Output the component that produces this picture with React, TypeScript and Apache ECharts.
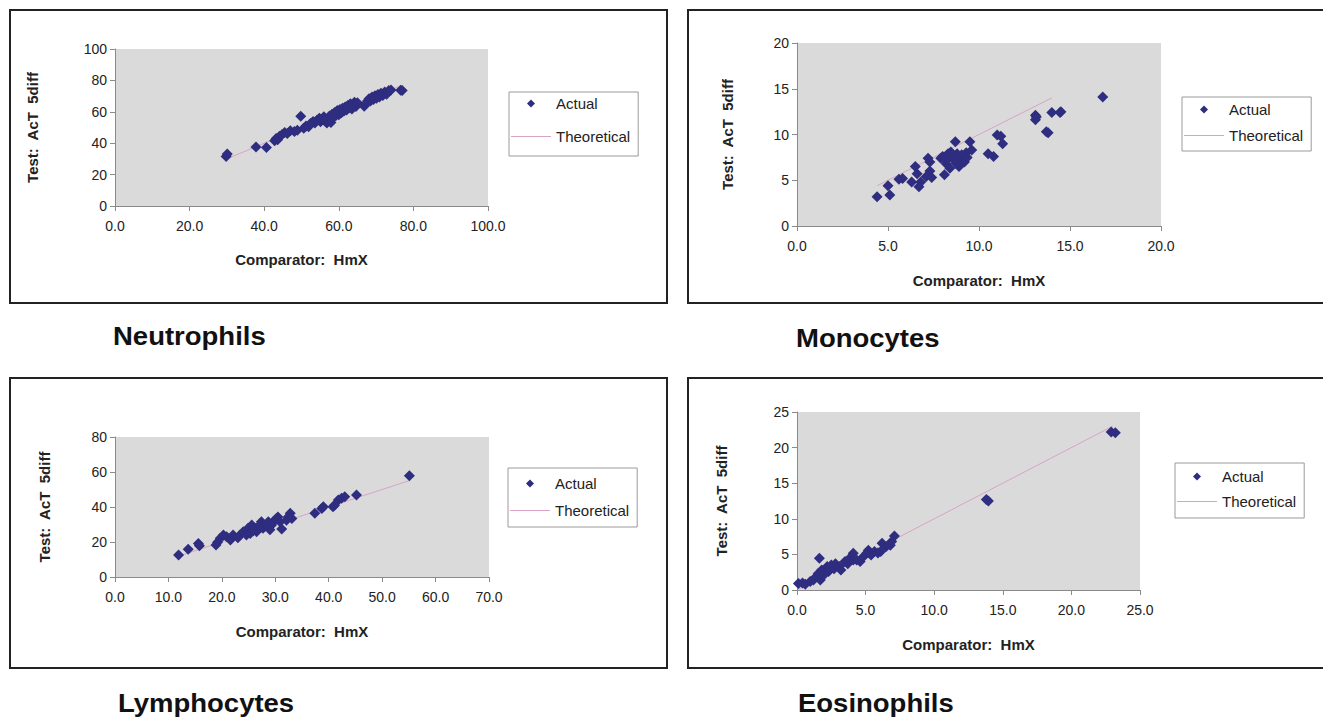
import React, { useEffect, useRef } from "react";
import * as echarts from "echarts";

const FONT = '"Liberation Sans", Arial, Helvetica, sans-serif';

// ---------- Data ----------
const titles = ["Neutrophils", "Monocytes", "Lymphocytes", "Eosinophils"];
const xAxisTitle = "Comparator:  HmX";
const yAxisTitle = "Test:  AcT  5diff";
const legendNames = ["Actual", "Theoretical"];

const neutX = [29.8, 30.1, 37.8, 40.6, 42.8, 43.2, 43.6, 44.1, 44.8, 45.5, 46.2, 47.0, 48.1, 48.9, 49.8, 50.6, 51.2, 51.9, 52.4, 53.1, 53.6, 54.2, 54.8, 55.1, 55.6, 56.0, 56.3, 56.8, 57.2, 57.5, 57.9, 58.2, 58.6, 58.9, 59.3, 59.6, 60.0, 60.3, 60.7, 61.0, 61.4, 61.7, 62.1, 62.4, 62.8, 63.1, 63.5, 63.8, 64.2, 64.6, 65.0, 66.8, 67.3, 67.7, 68.1, 68.5, 68.9, 69.3, 69.7, 70.1, 70.5, 70.9, 71.3, 71.8, 72.3, 72.8, 73.4, 74.0, 76.6, 77.0];
const neutY = [31.5, 33.2, 37.6, 37.2, 41.5, 43.0, 42.2, 44.5, 45.6, 46.8, 46.1, 47.9, 47.5, 48.3, 57.2, 49.6, 51.0, 50.4, 52.6, 53.8, 52.9, 54.7, 55.9, 53.6, 55.2, 56.8, 54.1, 52.8, 55.5, 57.3, 53.2, 58.5, 56.4, 59.6, 57.8, 60.9, 58.2, 61.5, 59.4, 62.3, 60.5, 63.1, 61.2, 64.0, 62.6, 65.2, 61.8, 64.6, 66.1, 63.4, 65.7, 63.6, 65.2, 66.8, 68.3, 66.9, 69.4, 67.8, 70.2, 68.6, 71.0, 69.5, 71.8, 70.4, 72.6, 71.2, 73.5, 73.9, 73.8, 73.6];
const neutTheoX = [29.8, 77.0];
const neutTheoY = [29.8, 77.0];

const monoX = [4.4, 5.0, 5.1, 5.6, 5.8, 6.3, 6.5, 6.6, 6.7, 6.8, 7.1, 7.2, 7.3, 7.3, 7.4, 8.0, 8.1, 8.2, 8.3, 8.4, 8.5, 8.6, 8.7, 8.8, 8.9, 9.0, 9.1, 9.2, 9.3, 9.35, 9.5, 9.6, 8.2, 8.45, 8.75, 9.05, 7.9, 10.5, 10.8, 11.0, 11.2, 11.3, 13.1, 13.1, 13.15, 13.7, 13.8, 14.0, 14.45, 14.5, 16.8];
const monoY = [3.2, 4.4, 3.4, 5.1, 5.2, 4.8, 6.5, 5.7, 4.3, 4.8, 5.4, 7.4, 7.0, 6.0, 5.3, 7.6, 5.6, 6.8, 7.9, 6.3, 7.5, 7.3, 9.2, 7.9, 6.5, 7.1, 7.6, 7.0, 8.0, 7.5, 9.2, 8.3, 7.2, 8.1, 6.8, 7.8, 7.4, 7.9, 7.6, 9.95, 9.8, 9.0, 12.1, 11.6, 11.9, 10.3, 10.2, 12.4, 12.4, 12.5, 14.1];
const monoTheoX = [4.4, 14.0];
const monoTheoY = [4.4, 14.0];

const lymX = [11.9, 13.7, 15.6, 15.8, 18.9, 19.2, 19.7, 20.3, 20.9, 21.6, 22.1, 23.4, 24.0, 24.6, 24.9, 25.6, 25.3, 26.2, 26.5, 27.1, 27.4, 27.7, 28.4, 28.7, 29.3, 29.6, 30.2, 30.5, 30.9, 31.2, 32.1, 32.4, 32.8, 33.1, 37.4, 38.7, 39.0, 40.8, 41.1, 41.8, 42.4, 43.0, 45.2, 55.1, 23.0, 25.9, 28.0, 29.0, 26.8];
const lymY = [12.6, 15.8, 19.2, 17.9, 18.3, 19.8, 22.1, 24.0, 23.0, 21.2, 24.0, 24.0, 25.9, 24.0, 27.8, 29.7, 24.9, 27.8, 25.9, 29.7, 31.6, 27.8, 29.7, 31.6, 29.7, 31.6, 33.5, 34.3, 31.6, 27.4, 32.5, 34.3, 36.4, 33.5, 36.4, 39.2, 40.1, 40.1, 41.0, 44.0, 45.0, 45.9, 46.9, 57.9, 22.5, 26.5, 28.8, 27.0, 28.6];
const lymTheoX = [11.9, 55.1];
const lymTheoY = [11.9, 55.1];

const eosX = [0.1, 0.4, 0.6, 0.96, 1.2, 1.35, 1.63, 1.55, 1.7, 1.8, 1.95, 2.2, 2.3, 2.5, 2.7, 2.8, 3.1, 3.2, 3.5, 3.7, 3.8, 4.1, 4.1, 4.35, 4.6, 4.85, 5.1, 5.2, 5.4, 5.65, 5.9, 6.1, 6.2, 6.5, 6.8, 6.9, 7.1, 13.8, 13.95, 22.9, 23.2];
const eosY = [0.9, 1.0, 0.8, 1.2, 1.4, 1.8, 4.45, 2.3, 1.4, 2.8, 2.1, 3.3, 2.6, 3.5, 3.0, 3.7, 3.3, 2.8, 4.0, 3.7, 4.4, 4.2, 5.15, 4.2, 4.0, 4.7, 5.2, 5.6, 4.9, 5.4, 5.2, 5.4, 6.55, 6.1, 6.3, 6.8, 7.6, 12.7, 12.5, 22.2, 22.1];
const eosTheoX = [0.1, 23.0];
const eosTheoY = [0.1, 23.0];

// axis ranges (tick labels)
const xMax = [100, 20, 70, 25];
const xStep = [20, 5, 10, 5];
const yMax = [100, 20, 80, 25];
const yStep = [20, 5, 20, 5];

const actual = [
  [neutX, neutY],
  [monoX, monoY],
  [lymX, lymY],
  [eosX, eosY],
];
const theo = [
  [neutTheoX, neutTheoY],
  [monoTheoX, monoTheoY],
  [lymTheoX, lymTheoY],
  [eosTheoX, eosTheoY],
];

// ---------- Layout ----------
const grids = [
  { left: 115, top: 49, width: 373, height: 157 },
  { left: 797, top: 43, width: 364, height: 183 },
  { left: 115, top: 437, width: 374, height: 140 },
  { left: 797, top: 412, width: 343, height: 178 },
];
const yNameGap = [75, 62, 63, 68];
const xNameGap = [46, 47, 47, 47];
const legendLayout = [
  { left: 509, top: 92, gap: 18, padding: [4, 8, 12, 2] },
  { left: 1182, top: 97, gap: 11, padding: [5, 8, 8, 2] },
  { left: 508, top: 468, gap: 12, padding: [8, 8, 9, 2] },
  { left: 1175, top: 463, gap: 10, padding: [6, 8, 9, 2] },
];
const boxes = [
  { x: 10, y: 10, w: 657, h: 293 },
  { x: 688, y: 10, w: 660, h: 293 },
  { x: 10, y: 378, w: 657, h: 290 },
  { x: 688, y: 378, w: 660, h: 290 },
];
const titlePos = [
  { x: 113, y: 336 },
  { x: 796, y: 338 },
  { x: 118, y: 703 },
  { x: 798, y: 703 },
];

const MARK = "#2e2d80";
const LINE = "#d9a3c6";
const DIAMOND_ICON = "path://M5,0 L10,5 L5,10 L0,5 Z";
const LINE_ICON = "path://M0,0 L40,0 L40,1 L0,1 Z";

export default function App() {
  const ref = useRef<HTMLDivElement>(null);

  useEffect(() => {
    const chart = echarts.init(ref.current!, null, { renderer: "svg" });

    const axisCommon = {
      axisLine: { show: true, onZero: false, lineStyle: { color: "#8a8a8a", width: 1 } },
      axisTick: { show: true, inside: false, length: 5, lineStyle: { color: "#8a8a8a" } },
      splitLine: { show: false },
    };

    const xAxis = grids.map((_, i) => ({
      type: "value",
      gridIndex: i,
      min: 0,
      max: xMax[i],
      interval: xStep[i],
      ...axisCommon,
      axisLabel: {
        margin: 13,
        fontFamily: FONT,
        fontSize: 14,
        color: "#222",
        formatter: (v: number) => v.toFixed(1),
      },
      name: xAxisTitle,
      nameLocation: "middle",
      nameGap: xNameGap[i],
      nameTextStyle: { fontFamily: FONT, fontSize: 15, fontWeight: "bold", color: "#222" },
    }));

    const yAxis = grids.map((_, i) => ({
      type: "value",
      gridIndex: i,
      min: 0,
      max: yMax[i],
      interval: yStep[i],
      ...axisCommon,
      axisLabel: { margin: 8, fontFamily: FONT, fontSize: 14, color: "#222" },
      name: yAxisTitle,
      nameLocation: "middle",
      nameGap: yNameGap[i],
      nameTextStyle: { fontFamily: FONT, fontSize: 15, fontWeight: "bold", color: "#222" },
    }));

    const series: any[] = [];
    grids.forEach((_, i) => {
      const [tx, ty] = theo[i];
      series.push({
        type: "line",
        name: legendNames[1],
        xAxisIndex: i,
        yAxisIndex: i,
        data: tx.map((x, k) => [x, ty[k]]),
        symbol: "none",
        lineStyle: { color: LINE, width: 1 },
        itemStyle: { color: LINE },
        z: 2,
      });
      const [ax, ay] = actual[i];
      series.push({
        type: "scatter",
        name: legendNames[0],
        xAxisIndex: i,
        yAxisIndex: i,
        data: ax.map((x, k) => [x, ay[k]]),
        symbol: "diamond",
        symbolSize: 11,
        itemStyle: { color: MARK, opacity: 1 },
        z: 3,
      });
    });

    const legend = legendLayout.map((p) => ({
      left: p.left,
      top: p.top,
      orient: "vertical",
      data: [
        { name: legendNames[0], icon: DIAMOND_ICON },
        { name: legendNames[1], icon: LINE_ICON },
      ],
      itemWidth: 40,
      itemHeight: 8,
      itemGap: p.gap,
      symbolKeepAspect: true,
      padding: p.padding,
      borderColor: "#9a9a9a",
      borderWidth: 1,
      selectedMode: false,
      textStyle: { fontFamily: FONT, fontSize: 15, color: "#222" },
    }));

    const graphic: any[] = [];
    boxes.forEach((b) => {
      graphic.push({
        type: "rect",
        shape: { x: b.x, y: b.y, width: b.w, height: b.h },
        style: { fill: "none", stroke: "#222", lineWidth: 2 },
        silent: true,
        z: 0,
      });
    });
    titlePos.forEach((p, i) => {
      graphic.push({
        type: "text",
        x: p.x,
        y: p.y,
        scaleX: 1.1,
        style: {
          text: titles[i],
          font: `bold 25px ${FONT}`,
          fill: "#111",
          verticalAlign: "middle",
        },
        silent: true,
      });
    });

    chart.setOption({
      animation: false,
      backgroundColor: "#ffffff",
      grid: grids.map((g) => ({
        ...g,
        show: true,
        backgroundColor: "#dadada",
        borderWidth: 0,
        containLabel: false,
      })),
      xAxis,
      yAxis,
      legend,
      series,
      graphic,
    });

    return () => chart.dispose();
  }, []);

  return (
    <div
      ref={ref}
      style={{ position: "fixed", left: 0, top: 0, width: 1323, height: 717, background: "#fff" }}
    />
  );
}
